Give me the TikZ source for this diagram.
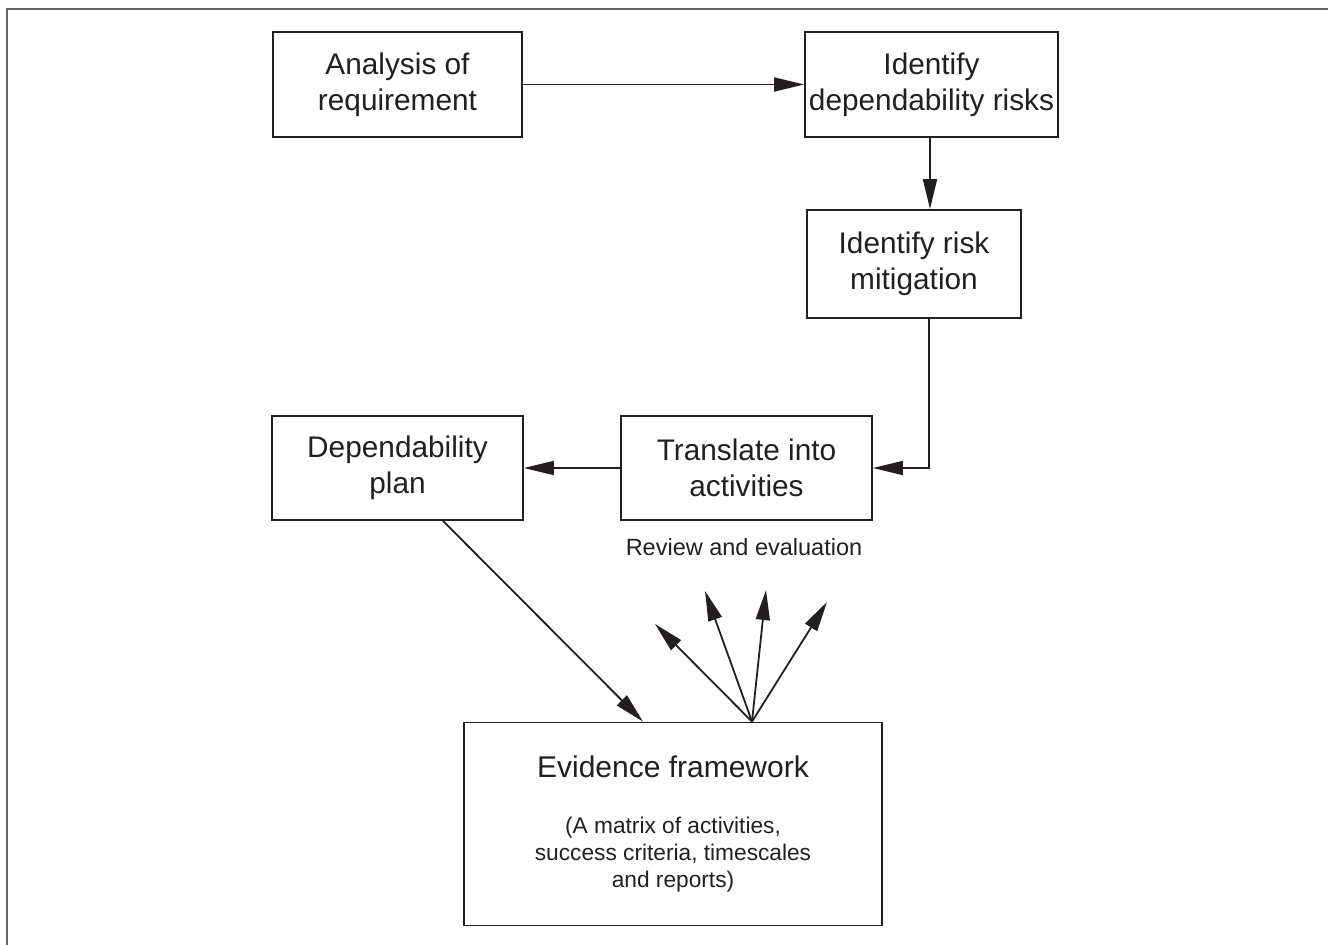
\documentclass[tikz,border=0pt]{standalone}
\usepackage{fontspec}
\setmainfont{Liberation Sans}
\usetikzlibrary{arrows.meta,calc}
\definecolor{ink}{HTML}{231F20}
\definecolor{framegray}{HTML}{666666}
\begin{document}
\begin{tikzpicture}[x=1pt,y=-1pt,
  box/.style={draw=ink, line width=1.8pt, rectangle, inner sep=0pt, align=center,
    text=ink, font=\fontsize{29.8}{36}\selectfont},
  arr/.style={draw=ink, line width=1.8pt, -{Triangle[length=30pt,width=14pt]}}]
\useasboundingbox (0,0) rectangle (1328,945);
\draw[framegray, line width=2pt] (1328,9) -- (7,9) -- (7,945);

\node[box, minimum width=249pt, minimum height=105pt] (A) at (397.5,84.5) {Analysis of\\requirement};
\node[box, minimum width=253pt, minimum height=105pt] (B) at (931.5,84.5) {Identify\\dependability risks};
\node[box, minimum width=214pt, minimum height=108pt] (C) at (914,264) {Identify risk\\mitigation};
\node[box, minimum width=251pt, minimum height=104pt] (D) at (746.5,468) {Translate into\\activities};
\node[box, minimum width=251pt, minimum height=104pt] (E) at (397.5,468) {Dependability\\plan};
\node[box, minimum width=418pt, minimum height=203pt, font=\fontsize{22.7}{26.7}\selectfont] (F) at (673,824)
  {{\fontsize{30}{36}\selectfont Evidence framework}\\[29pt](A matrix of activities,\\success criteria, timescales\\and reports)};

\node[text=ink, font=\fontsize{23.5}{28}\selectfont, anchor=base] (R) at (744,555) {Review and evaluation};

\draw[arr] (A.east) -- (B.west);
\draw[arr] ([xshift=-1.5pt]B.south) -- ([xshift=-1.5pt]B.south |- C.north);
\draw[arr] ([xshift=15pt]C.south) |- (D.east);
\draw[arr] (D.west) -- (E.east);
\draw[arr] ([xshift=45.5pt]E.south) -- ([xshift=-30pt]F.north);

\coordinate (o) at ([xshift=79pt]F.north);
\coordinate (t1) at (655,624);
\coordinate (t2) at (705,591);
\coordinate (t3) at (766,590);
\coordinate (t4) at (827,602);
\foreach \t in {t1,t2,t3,t4} \draw[arr] (o) -- (\t);
\end{tikzpicture}
\end{document}
